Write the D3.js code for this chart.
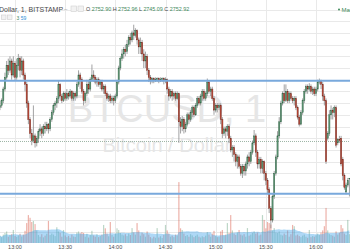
<!DOCTYPE html>
<html>
<head>
<meta charset="utf-8">
<script src="https://cdn.jsdelivr.net/npm/d3@7"></script>
<style>
body { margin: 0; background: #fff; overflow: hidden; }
text { font-family: "Liberation Sans", Arial, sans-serif; }
</style>
</head>
<body>
<svg id="chart" width="350" height="250"></svg>
<script>
// first candle: 12:51, one candle per minute
const firstBar = new Date(2017, 5, 14, 12, 51);

// [open, high, low, close]
const candles = [
  [2783,2786,2782,2784],[2784,2787,2783,2786],[2786,2792,2785,2791],[2791,2798,2790,2796],[2796,2803,2795,2801],
  [2801,2804,2797,2799],[2799,2805,2798,2803],[2803,2804,2795,2797],[2797,2805,2796,2802],[2802,2803,2794.5,2796],
  [2796,2804,2795,2801],[2801,2806,2799,2804],[2804,2805,2796,2799],[2799,2805,2797,2803],[2803,2804,2795,2797],
  [2797,2798,2790,2793],[2793,2794,2783,2785],[2785,2786,2776,2778],[2778,2779,2770,2772],[2772,2774,2767,2769],
  [2769,2784,2768,2771],[2771,2772,2766,2768],[2768,2771,2766.5,2770],[2770,2774,2768,2773],[2773,2776,2771,2774],
  [2774,2775,2770,2772],[2772,2776,2771,2775],[2775,2777,2772,2774],[2774,2777,2773,2776],[2776,2776.5,2772,2774],
  [2774,2779,2773,2778],[2778,2782,2777,2781],[2781,2785,2780,2784],[2784,2786,2782,2785],[2785,2788,2783,2787],
  [2787,2794.5,2785,2793],[2793,2793.5,2786,2788],[2788,2789,2785,2786],[2786,2790,2785.5,2789],[2789,2790,2786,2787],
  [2787,2791,2786,2789],[2789,2790,2786.5,2788],[2788,2791,2787,2790],[2790,2790.5,2786,2787],[2787,2790,2786,2789],
  [2789,2790,2786,2788],[2788,2794,2787,2793],[2793,2799,2792,2797],[2797,2798,2791,2795],[2795,2796,2789,2790],
  [2790,2791,2784,2786],[2786,2790,2785,2789],[2789,2795,2788,2793],[2793,2795,2789,2791],[2791,2796,2790,2795],
  [2795,2801.5,2794,2797],[2797,2799,2794,2796],[2796,2797,2793,2794],[2794,2796,2792,2795],[2795,2796,2792,2793],
  [2793,2795,2791,2794],[2794,2795,2790,2791],[2791,2793,2789,2792],[2792,2793,2788,2789],[2789,2790,2786,2787],
  [2787,2789,2785.5,2788],[2788,2789,2785,2786],[2786,2788,2785,2787],[2787,2788,2784,2786],[2786,2789,2785,2788],
  [2788,2795,2787,2794],[2794,2801,2793,2800],[2800,2805,2799,2804],[2804,2808,2803,2806],[2806,2809,2804,2808],
  [2808,2810,2805,2807],[2807,2812,2806,2810],[2810,2814,2809,2813],[2813,2815,2810,2812],[2812,2816,2811,2815],
  [2815,2818.5,2812,2814],[2814,2817,2813,2816],[2816,2816.5,2810,2812],[2812,2813,2806,2809],[2809,2813,2806,2811],
  [2811,2812,2803,2806],[2806,2808,2800,2803],[2803,2807,2800,2805],[2805,2806,2797,2799],[2799,2800,2794,2796],
  [2796,2797,2793,2794.5],[2794.5,2796,2793.5,2795.5],[2795.5,2796,2793.5,2794.5],[2794.5,2796,2794,2795],[2795,2796,2794,2795.5],
  [2795.5,2796,2793.5,2794.5],[2794.5,2796,2794,2795],[2795,2796,2794,2795.5],[2795.5,2796,2793,2794.5],[2794.5,2796,2793.5,2795],
  [2795,2795.5,2789,2791],[2791,2792,2786,2788],[2788,2791,2787,2790],[2790,2791,2786,2788],[2788,2790,2786.5,2789],
  [2789,2790,2786,2787],[2787,2790,2786.5,2789],[2789,2789.5,2768,2777],[2777,2779,2772,2775],[2775,2779.5,2773,2778],
  [2778,2779,2772,2774],[2774,2777,2772.5,2776],[2776,2781,2775,2780],[2780,2781,2776,2778],[2778,2782,2777,2781],
  [2781,2784,2779,2783],[2783,2784,2779,2780],[2780,2785,2779.5,2784],[2784,2788,2783,2787],[2787,2788,2784,2785],
  [2785,2789,2784,2788],[2788,2791,2786,2790],[2790,2791,2786,2787],[2787,2790,2786,2789],[2789,2795.5,2788,2794],
  [2794,2794.5,2789,2790],[2790,2792,2788,2791],[2791,2792,2786,2787],[2787,2788,2780,2782],[2782,2785,2781,2784],
  [2784,2785,2781,2783],[2783,2785,2782,2784],[2784,2785,2776,2778],[2778,2779,2770,2772],[2772,2775,2771,2774],
  [2774,2775,2770,2773],[2773,2776,2771,2775],[2775,2776,2768,2770],[2770,2771,2764,2765],[2765,2767,2762,2766],
  [2766,2767,2760,2763],[2763,2764,2758,2760],[2760,2763,2757,2762],[2762,2763,2757,2758],[2758,2759,2754,2755],
  [2755,2759,2753,2758],[2758,2759,2754,2756],[2756,2760,2754,2759],[2759,2763,2757,2762],[2762,2764,2758,2760],
  [2760,2765,2759,2764],[2764,2769,2763,2768],[2768,2773.5,2767,2771],[2771,2772,2762,2764],[2764,2765,2757,2759],
  [2759,2762,2757,2761],[2761,2762,2755,2757],[2757,2761,2755,2760],[2760,2760.5,2752,2755],[2755,2756,2750,2752],
  [2752,2753,2746,2748],[2748,2749,2738,2740],[2740,2741,2731.5,2735],[2735,2746,2734,2745],[2745,2756,2744,2755],
  [2755,2763,2754,2762],[2762,2773,2761,2771],[2771,2779,2770,2777],[2777,2786,2776,2785],[2785,2790,2784,2789],
  [2789,2793,2785,2786],[2786,2793,2785.5,2790],[2790,2791,2785,2786],[2786,2790,2785,2789],[2789,2790,2786,2787],
  [2787,2788,2785,2786],[2786,2788,2784,2787],[2787,2788,2782,2783],[2783,2784,2778,2779],[2779,2780,2775,2776],
  [2776,2782,2775.5,2781],[2781,2787,2780,2786],[2786,2791,2785,2790],[2790,2793,2789,2792],[2792,2793,2789,2791],
  [2791,2793.5,2790,2792],[2792,2793,2789,2790],[2790,2792,2788.5,2791],[2791,2792,2788,2789],[2789,2792,2788,2791],
  [2791,2795,2790,2794],[2794,2795.5,2793,2794.5],[2794.5,2795,2791,2793],[2793,2794,2786,2788],[2788,2789,2784,2786],
  [2786,2787,2759,2760],[2770,2773,2769,2772],[2772,2782,2771,2780],[2780,2784,2778,2782],[2782,2783,2778,2781],
  [2781,2784,2779,2783],[2783,2784,2766,2767],[2768,2770,2767,2769.5],[2769.5,2771,2768,2769],[2770,2771,2758,2759],
  [2761,2762,2752,2754],[2754,2755,2748,2749],[2747,2751,2746,2750],[2750,2753,2749,2752],[2752.90,2752.96,2745.09,2752.92]
];

const volumes = [
  35,28,40,48,55,30,38,42,62,33,
  29,36,44,31,40,58,95,133,120,100,
  105,90,60,38,30,42,27,35,44,105,
  38,45,40,33,75,55,48,30,62,36,
  28,34,25,40,31,29,50,55,46,52,
  48,30,44,26,38,58,36,30,42,28,
  33,40,86,70,45,32,100,38,30,44,
  70,62,48,40,36,42,33,45,38,71,
  50,40,95,60,35,48,42,30,55,40,
  28,22,30,25,71,26,32,24,38,86,
  60,45,30,35,28,40,36,290,70,62,
  45,33,38,30,42,36,28,34,40,30,
  26,32,28,35,52,40,30,45,58,33,
  28,30,55,62,36,40,95,48,133,60,
  45,38,50,62,40,36,42,30,71,35,
  40,48,55,45,50,36,40,133,110,70,
  100,95,88,60,71,50,48,55,40,36,
  45,38,60,30,42,86,80,36,40,33,
  28,35,40,30,25,62,28,33,30,36,
  45,38,50,60,80,167,60,42,38,35,
  30,55,40,48,86,70,45,38,110,42
];

const timeLabels = ['13:00', '13:30', '14:00', '14:30', '15:00', '15:30', '16:00'];
const levelLines = [2794.6, 2746.3];
const prevClose = 2768.6;
const maLength = 20;

const W = 350, H = 250, plotBottom = 243;
const svg = d3.select('#chart');

const bars = candles.map((c, i) => ({
  t: d3.timeMinute.offset(firstBar, i),
  o: c[0], h: c[1], l: c[2], c: c[3],
  v: volumes[i]
}));
// moving average of volume (what the volume study shows as the blue area)
bars.forEach((d, i) => {
  const win = volumes.slice(Math.max(0, i - maLength + 1), i + 1);
  d.ma = d3.mean(win);
});

const x = d3.scaleTime()
  .domain([new Date(2017, 5, 14, 13, 0), new Date(2017, 5, 14, 16, 0)])
  .range([15, 316]);
const y = d3.scaleLinear().domain([2725, 2830]).range([243.5, -2.2]);
const yVol = d3.scaleLinear().domain([0, 300]).range([plotBottom, 180]);
const step = x(d3.timeMinute.offset(firstBar, 1)) - x(firstBar);
const parseHM = d3.timeParse('%Y-%m-%d %H:%M');

svg.append('defs').append('clipPath').attr('id', 'plot')
  .append('rect').attr('x', 0).attr('y', 0).attr('width', W).attr('height', plotBottom);

// grid
const grid = svg.append('g');
grid.selectAll('.hg')
  .data(y.ticks(20).filter(p => y(p) > 2 && y(p) < plotBottom))
  .enter().append('line')
  .attr('x1', 0).attr('x2', W)
  .attr('y1', d => Math.round(y(d)) + 0.5).attr('y2', d => Math.round(y(d)) + 0.5)
  .attr('stroke', '#e9e9e9').attr('stroke-width', 1);
grid.selectAll('.vg')
  .data(timeLabels)
  .enter().append('line')
  .attr('x1', d => Math.round(x(parseHM('2017-06-14 ' + d))) + 0.5)
  .attr('x2', d => Math.round(x(parseHM('2017-06-14 ' + d))) + 0.5)
  .attr('y1', 0).attr('y2', plotBottom)
  .attr('stroke', '#e9e9e9').attr('stroke-width', 1);

// watermark
svg.append('text')
  .attr('x', 167).attr('y', 122)
  .attr('text-anchor', 'middle')
  .style('font-size', '38px')
  .attr('fill', '#e6e6e6')
  .text('BTCUSD, 1');
svg.append('text')
  .attr('x', 167).attr('y', 152)
  .attr('text-anchor', 'middle')
  .style('font-size', '20px')
  .attr('fill', '#e6e6e6')
  .text('Bitcoin / Dollar');

const plot = svg.append('g').attr('clip-path', 'url(#plot)');

// volume bars
plot.selectAll('.vol')
  .data(bars)
  .enter().append('rect')
  .attr('x', d => x(d.t) - 0.6)
  .attr('width', 1.2)
  .attr('y', d => yVol(d.v))
  .attr('height', d => plotBottom - yVol(d.v))
  .attr('fill', d => d.c >= d.o ? '#6ba583' : '#d75442')
  .attr('opacity', 0.45);

// volume MA area
plot.append('path')
  .datum(bars)
  .attr('d', d3.area()
    .x(d => x(d.t))
    .y0(plotBottom)
    .y1(d => yVol(d.ma))
    .curve(d3.curveMonotoneX))
  .attr('fill', '#4ba8ec')
  .attr('opacity', 0.45);

// previous close (dotted)
plot.append('line')
  .attr('x1', 0).attr('x2', W)
  .attr('y1', y(prevClose)).attr('y2', y(prevClose))
  .attr('stroke', '#9db5a5').attr('stroke-width', 1)
  .style('stroke-dasharray', '1,1');

// candles
const candleG = plot.selectAll('.candle')
  .data(bars)
  .enter().append('g');
candleG.append('line')
  .attr('x1', d => x(d.t)).attr('x2', d => x(d.t))
  .attr('y1', d => y(d.h)).attr('y2', d => y(d.l))
  .attr('stroke', '#8a8a8c').attr('stroke-width', 0.8);
candleG.append('rect')
  .attr('x', d => x(d.t) - step * 0.36)
  .attr('width', step * 0.72)
  .attr('y', d => y(Math.max(d.o, d.c)))
  .attr('height', d => Math.max(0.8, Math.abs(y(d.o) - y(d.c))))
  .attr('fill', d => d.c >= d.o ? '#5f9676' : '#c24a38')
  .attr('stroke', d => d.c >= d.o ? '#2f6444' : '#6e2216')
  .attr('stroke-width', 0.4);

// horizontal levels
svg.selectAll('.level')
  .data(levelLines)
  .enter().append('line')
  .attr('x1', 0).attr('x2', W)
  .attr('y1', d => y(d)).attr('y2', d => y(d))
  .attr('stroke', '#79a9dc').attr('stroke-width', 2);

// time axis labels
svg.selectAll('.tl')
  .data(timeLabels)
  .enter().append('text')
  .attr('x', d => x(parseHM('2017-06-14 ' + d)))
  .attr('y', 249)
  .attr('text-anchor', 'middle')
  .style('font-size', '5.5px')
  .attr('fill', '#4d4d4d')
  .text(d => d);

// header
const last = bars[bars.length - 1];
svg.append('text')
  .attr('x', -1).attr('y', 11.5)
  .style('font-size', '7px')
  .attr('fill', '#4a4a4a')
  .text('Dollar, 1, BITSTAMP');
svg.append('text')
  .attr('x', 64).attr('y', 11)
  .style('font-size', '6px')
  .attr('fill', '#999')
  .text('\u2013');
[71, 78].forEach(px => {
  svg.append('rect')
    .attr('x', px).attr('y', 6).attr('width', 5.5).attr('height', 5.5)
    .attr('fill', '#f2f2f2').attr('stroke', '#cfcfcf').attr('stroke-width', 0.6);
});
[1.5, 7.5].forEach(px => {
  svg.append('rect')
    .attr('x', px).attr('y', 15).attr('width', 4.5).attr('height', 4.5)
    .attr('fill', '#f2f2f2').attr('stroke', '#cfcfcf').attr('stroke-width', 0.6);
});
const ohlc = svg.append('text')
  .attr('x', 86).attr('y', 11)
  .style('font-size', '5.4px');
[['O', last.o], ['H', last.h], ['L', last.l], ['C', last.c]].forEach(([k, v]) => {
  ohlc.append('tspan').attr('fill', '#444').text(k + ' ');
  ohlc.append('tspan').attr('fill', '#3f8a5c').text(d3.format('.2f')(v) + ' ');
});
const volTxt = svg.append('text')
  .attr('x', 16.5).attr('y', 19.5)
  .style('font-size', '5px');
volTxt.append('tspan').attr('fill', '#3f8a5c').text(Math.round(last.v / 14) + ' ');
volTxt.append('tspan').attr('fill', '#2e8fd8').text(Math.round(last.ma));

svg.append('circle').attr('cx', 339).attr('cy', 9.5).attr('r', 1).attr('fill', '#3f8a5c');
svg.append('text')
  .attr('x', 341.5).attr('y', 11.5)
  .style('font-size', '6px')
  .attr('fill', '#3f8a5c')
  .text('Market Open');
</script>
</body>
</html>
